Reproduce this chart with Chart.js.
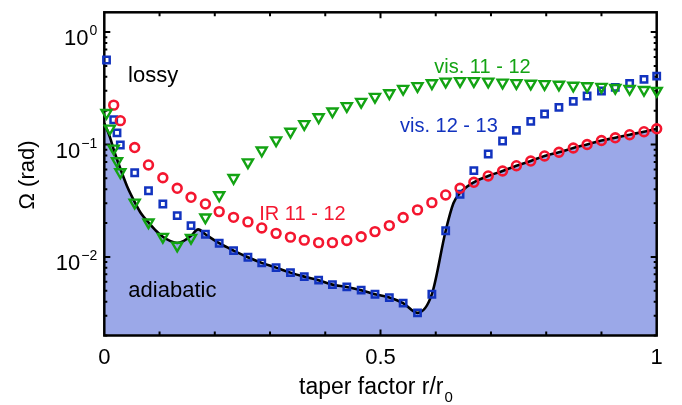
<!DOCTYPE html>
<html>
<head>
<meta charset="utf-8">
<script src="https://cdn.jsdelivr.net/npm/chart.js@4.4.1/dist/chart.umd.min.js"></script>
<style>
  html, body { margin: 0; padding: 0; background: #fff; }
</style>
</head>
<body>
<canvas id="taperChart" width="682" height="405"></canvas>
<script>
// taper factor r/r0 at which the three transitions were evaluated
const taperX = [0.004, 0.010, 0.017, 0.023,
  0.029, 0.055, 0.080, 0.106, 0.132, 0.157, 0.183, 0.208, 0.234, 0.260,
  0.285, 0.311, 0.337, 0.362, 0.388, 0.413, 0.439, 0.465, 0.490, 0.516,
  0.541, 0.567, 0.593, 0.618, 0.644, 0.669, 0.695, 0.721, 0.746, 0.772,
  0.797, 0.823, 0.849, 0.874, 0.900, 0.925, 0.951, 0.977, 1.000];

// Omega (rad) per transition, null where nothing was plotted
const irOmega = [null, null, 0.224, null,
  0.163, 0.094, 0.0658, 0.0506, 0.0408, 0.0339, 0.0296, 0.0253, 0.0225, 0.0205,
  0.0181, 0.0162, 0.0150, 0.0141, 0.0134, 0.0134, 0.0140, 0.0151, 0.0168, 0.0190,
  0.0224, 0.0262, 0.0304, 0.0356, 0.0408, 0.0461, 0.0525, 0.0581, 0.0648, 0.0713,
  0.0791, 0.0853, 0.0931, 0.100, 0.1086, 0.1147, 0.1223, 0.130, 0.138];

const vis1112Omega = [0.191, 0.1388, 0.0921, 0.0711,
  0.0567, 0.0305, 0.0203, 0.0151, 0.0126, 0.0148, 0.0225, 0.0354, 0.0504, 0.0695,
  0.0885, 0.109, 0.130, 0.152, 0.175, 0.197, 0.220, 0.240, 0.266, 0.286,
  0.313, 0.331, 0.351, 0.363, 0.367, 0.367, 0.363, 0.356, 0.352, 0.348,
  0.345, 0.341, 0.334, 0.330, 0.326, 0.319, 0.313, 0.306, 0.300];

const vis1213Omega = [0.564, null, 0.166, 0.127,
  0.099, 0.0561, 0.0388, 0.0296, 0.0233, 0.0190, 0.0159, 0.01324, 0.01138, 0.00993,
  0.00885, 0.00803, 0.00725, 0.00668, 0.00621, 0.00567, 0.00541, 0.00506, 0.00466, 0.00435,
  0.00388, 0.00318, 0.00466, 0.0171, 0.0361, 0.0585, 0.0823, 0.1074, 0.1337, 0.1607,
  0.1867, 0.2141, 0.2421, 0.270, 0.299, 0.322, 0.350, 0.380, 0.406];

// adiabatic limit (lower envelope), filled down to the axis
const limitX = [0, 0.010, 0.019, 0.030, 0.041, 0.054, 0.066, 0.081, 0.094, 0.106,
  0.119, 0.132, 0.144, 0.157, 0.170, 0.183, 0.208, 0.234, 0.260, 0.285,
  0.311, 0.337, 0.362, 0.388, 0.413, 0.439, 0.465, 0.490, 0.516, 0.541,
  0.567, 0.593, 0.618, 0.632, 0.644, 0.669, 0.695, 0.721, 0.746, 0.772,
  0.797, 0.823, 0.849, 0.874, 0.900, 0.925, 0.951, 0.977, 1.000];
const limitOmega = [0.155, 0.117, 0.084, 0.0593, 0.0428, 0.0315, 0.0246, 0.0200, 0.0170, 0.0151,
  0.0139, 0.0133, 0.0139, 0.0154, 0.0176, 0.0159, 0.01324, 0.01138, 0.00993, 0.00885,
  0.00803, 0.00725, 0.00668, 0.00621, 0.00567, 0.00541, 0.00506, 0.00466, 0.00435, 0.00388,
  0.00318, 0.00466, 0.0171, 0.0300, 0.0371, 0.0461, 0.0525, 0.0581, 0.0648, 0.0713,
  0.0791, 0.0853, 0.0931, 0.100, 0.1086, 0.1147, 0.1223, 0.130, 0.138];

const xTickLabels = [0, 0.5, 1];
const yDecadeLabels = [[1, '0'], [0.1, '\u22121'], [0.01, '\u22122']];

const FONT = '"Liberation Sans", Arial, Helvetica, sans-serif';
const BLUE = '#1233bf';
const RED = '#f4162f';
const GREEN = '#13a313';
const FILL = '#9ba8e8';

function pairs(xs, ys) {
  return xs.map((x, i) => ({ x: x, y: ys[i] }));
}

// frame and inward ticks, drawn over the filled area but under the markers
function drawFrame(chart) {
  const { ctx, chartArea: a, scales: { x, y } } = chart;
  ctx.save();
  ctx.strokeStyle = '#000';
  ctx.lineWidth = 2;
  ctx.beginPath();
  for (let v = 0.1; v < 0.95; v += 0.1) {
    const px = x.getPixelForValue(v);
    const len = Math.abs(v - 0.5) < 1e-6 ? 6 : 4;
    ctx.moveTo(px, a.bottom); ctx.lineTo(px, a.bottom - len);
    ctx.moveTo(px, a.top); ctx.lineTo(px, a.top + len);
  }
  for (let d = -3; d <= 0; d++) {
    for (let m = 1; m <= 9; m++) {
      const v = m * Math.pow(10, d);
      if (v < y.min || v > y.max) continue;
      const py = y.getPixelForValue(v);
      const len = m === 1 ? 6 : 3;
      ctx.moveTo(a.left, py); ctx.lineTo(a.left + len, py);
      ctx.moveTo(a.right, py); ctx.lineTo(a.right - len, py);
    }
  }
  ctx.stroke();
  ctx.lineWidth = 2.5;
  ctx.strokeRect(a.left, a.top, a.right - a.left, a.bottom - a.top);
  ctx.restore();
}

function drawTexts(chart) {
  const { ctx, chartArea: a, scales: { x, y } } = chart;
  ctx.save();
  ctx.fillStyle = '#000';
  ctx.textBaseline = 'alphabetic';

  // x tick labels
  ctx.font = '22px ' + FONT;
  ctx.textAlign = 'center';
  xTickLabels.forEach(v => ctx.fillText(String(v), x.getPixelForValue(v), a.bottom + 28.5));

  // y tick labels as 10 with a superscript exponent
  yDecadeLabels.forEach(([v, exp]) => {
    const py = y.getPixelForValue(v);
    const right = a.left - 7;
    ctx.textAlign = 'right';
    ctx.font = '14px ' + FONT;
    ctx.fillText(exp, right, py + 3);
    const w = ctx.measureText(exp).width;
    ctx.font = '22px ' + FONT;
    ctx.fillText('10', right - w - 1, py + 13);
  });

  // x axis title with subscript
  ctx.textAlign = 'left';
  ctx.font = '23px ' + FONT;
  const title = 'taper factor r/r';
  const tx = 299;
  ctx.fillText(title, tx, a.bottom + 58.5);
  const tw = ctx.measureText(title).width;
  ctx.font = '15px ' + FONT;
  ctx.fillText('0', tx + tw + 1, a.bottom + 66.5);

  // y axis title
  ctx.save();
  ctx.translate(34, 175);
  ctx.rotate(-Math.PI / 2);
  ctx.textAlign = 'center';
  ctx.font = '22px ' + FONT;
  ctx.fillText('\u03A9 (rad)', 0, 0);
  ctx.restore();

  // region and series annotations
  const note = (text, xv, yv, color, size) => {
    ctx.fillStyle = color;
    ctx.font = size + 'px ' + FONT;
    ctx.textAlign = 'left';
    ctx.fillText(text, x.getPixelForValue(xv), y.getPixelForValue(yv));
  };
  note('lossy', 0.043, 0.36, '#000', 22);
  note('adiabatic', 0.0435, 0.00438, '#000', 22);
  note('IR 11 - 12', 0.2806, 0.0213, RED, 20);
  note('vis. 11 - 12', 0.5974, 0.4295, GREEN, 20);
  note('vis. 12 - 13', 0.5353, 0.129, BLUE, 20);
  ctx.restore();
}

const decorations = {
  id: 'decorations',
  afterDatasetDraw(chart, args) {
    if (args.index === 0) drawFrame(chart);
  },
  afterDraw(chart) {
    drawTexts(chart);
  }
};

const markerBase = {
  showLine: false,
  clip: false,
  pointBackgroundColor: 'rgba(0,0,0,0)',
  pointHoverRadius: 0
};

new Chart(document.getElementById('taperChart'), {
  type: 'line',
  data: {
    datasets: [
      {
        label: 'adiabatic',
        data: pairs(limitX, limitOmega),
        borderColor: '#000',
        borderWidth: 2.6,
        backgroundColor: FILL,
        fill: 'start',
        pointRadius: 0,
        cubicInterpolationMode: 'monotone',
        order: 10
      },
      Object.assign({
        label: 'vis. 12 - 13',
        data: pairs(taperX, vis1213Omega),
        pointStyle: 'rect',
        pointRadius: 4.5,
        pointBorderWidth: 2.5,
        pointBorderColor: BLUE,
        order: 3
      }, markerBase),
      Object.assign({
        label: 'IR 11 - 12',
        data: pairs(taperX, irOmega),
        pointStyle: 'circle',
        pointRadius: 4.4,
        pointBorderWidth: 2.6,
        pointBorderColor: RED,
        order: 2
      }, markerBase),
      Object.assign({
        label: 'vis. 11 - 12',
        data: pairs(taperX, vis1112Omega),
        pointStyle: 'triangle',
        pointRotation: 180,
        pointRadius: 5.8,
        pointBorderWidth: 2.4,
        pointBorderColor: GREEN,
        order: 1
      }, markerBase)
    ]
  },
  options: {
    responsive: false,
    animation: false,
    events: [],
    layout: { padding: { left: 104.3, right: 25.3, top: 12.3, bottom: 69.5 } },
    plugins: {
      legend: { display: false },
      tooltip: { enabled: false }
    },
    scales: {
      x: { type: 'linear', min: 0, max: 1, display: false },
      y: { type: 'logarithmic', min: 0.002, max: 1.5, display: false }
    }
  },
  plugins: [decorations]
});
</script>
</body>
</html>
